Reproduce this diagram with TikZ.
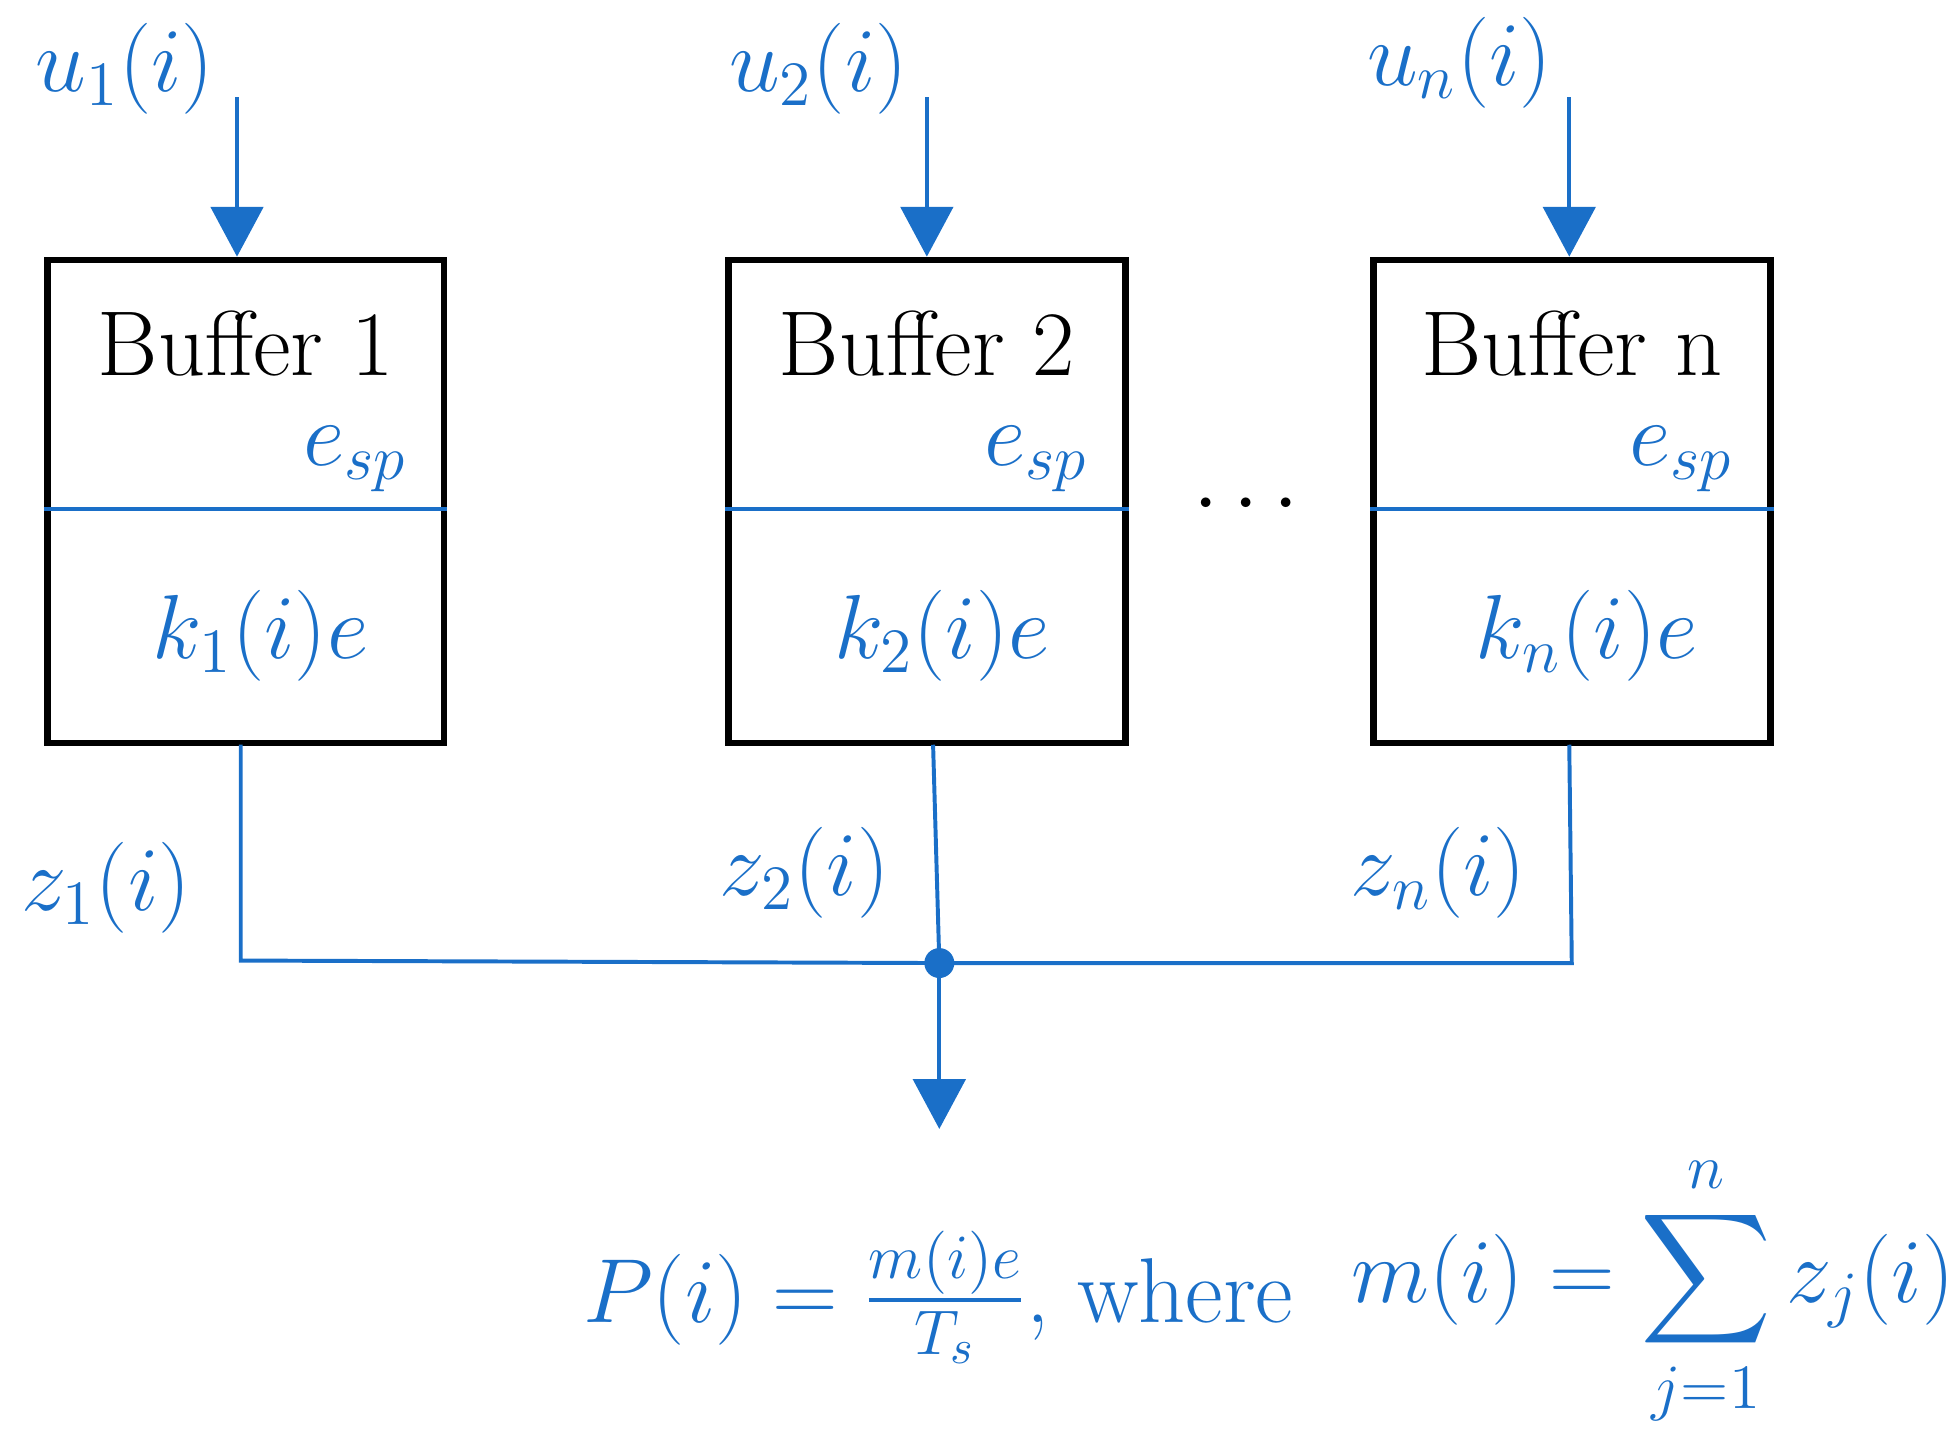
\documentclass[tikz,border=0pt]{standalone}
\usepackage{amsmath}
\usetikzlibrary{arrows.meta}
\definecolor{bl}{HTML}{1A6FC8}
\begin{document}
\begin{tikzpicture}[x=0.01cm,y=-0.01cm,
  buf/.style={draw=black,line width=1.5pt,minimum width=3.18cm,minimum height=3.87cm,inner sep=0pt},
  wire/.style={draw=bl,line width=0.9pt},
  arr/.style={wire,-{Triangle[width=0.42cm,length=0.4cm]}},
  lab/.style={text=bl,font=\fontsize{21}{25}\selectfont},
  btxt/.style={font=\fontsize{21}{25}\selectfont}]
\useasboundingbox (0,0) rectangle (1560,1156);
\foreach \n/\x/\s in {a/197/1,b/743/2,c/1260/n}{
  \node[buf] (B\n) at (\x,402) {};
  \draw[wire] (B\n.west |- 0,408) -- (B\n.east |- 0,408);
  \node[btxt] (T\n) at (\x,275) {Buffer \s};
  \node[lab,anchor=east] (E\n) at ([xshift=-0.2cm]B\n.east |- 0,368) {$e_{sp}$};
  \node[lab] (K\n) at ([xshift=0.12cm]\x,510) {$k_{\s}(i)e$};
}
\node[lab] (U1) at (100,55) {$u_1(i)$};
\node[lab] (U2) at (656,55) {$u_2(i)$};
\node[lab] (Un) at (1170,50) {$u_n(i)$};
\coordinate (s1) at (190,78); \coordinate (s2) at (743,78); \coordinate (s3) at (1258,78);
\draw[arr] (s1) -- (Ba.north -| s1);
\draw[arr] (s2) -- (Bb.north);
\draw[arr] (s3) -- (Bc.north -| s3);
\fill[bl] (753,772) circle (0.12cm) coordinate (J);
\draw[wire] (193,597) -- (193,770) -- (J) -- (1260,772) -- (1258,597);
\draw[wire] (748,597) -- (J);
\coordinate (O) at (753,905);
\draw[arr] (J) -- (O);
\node[lab] (Z1) at (85,712) {$z_1(i)$};
\node[lab] (Z2) at (645,700) {$z_2(i)$};
\node[lab] (Zn) at (1153,700) {$z_n(i)$};
\node[font=\fontsize{21}{25}\selectfont] (D) at (1005,405) {$\cdots$};
\node[lab] (F1) at (752,1040) {$P(i)=\frac{m(i)e}{T_s}$, where};
\node[lab] (F2) at (1325,1035) {$m(i)=\displaystyle\sum_{j=1}^{n} z_j(i)$};
\end{tikzpicture}
\end{document}
